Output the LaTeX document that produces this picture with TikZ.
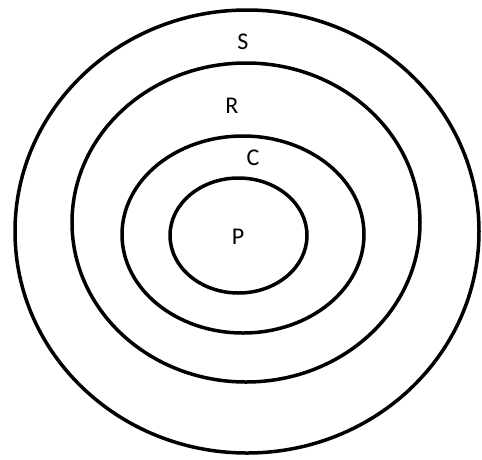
\documentclass[tikz,border=0pt]{standalone}
\usepackage{fontspec}
\setmainfont{Carlito}
\tikzset{
  ring/.style={draw=black, line width=3.5pt},
  lbl/.style={font=\fontsize{24}{28}\selectfont, text=black, inner sep=0pt, anchor=center}
}
\begin{document}
\begin{tikzpicture}[x=1pt,y=-1pt]
\useasboundingbox (0,0) rectangle (482,459);
\draw[ring] (247,231.5) ellipse [x radius=232, y radius=221.5];
\draw[ring] (246,222.5) ellipse [x radius=174, y radius=159.5];
\draw[ring] (243,234.5) ellipse [x radius=121, y radius=98.5];
\draw[ring] (238.5,235.5) ellipse [x radius=68.5, y radius=57.5];
\node[lbl] (s) at (243,42) {S};
\node[lbl] (r) at (232,106) {R};
\node[lbl] (c) at (253,158) {C};
\node[lbl] (p) at (238,237) {P};
\end{tikzpicture}
\end{document}
